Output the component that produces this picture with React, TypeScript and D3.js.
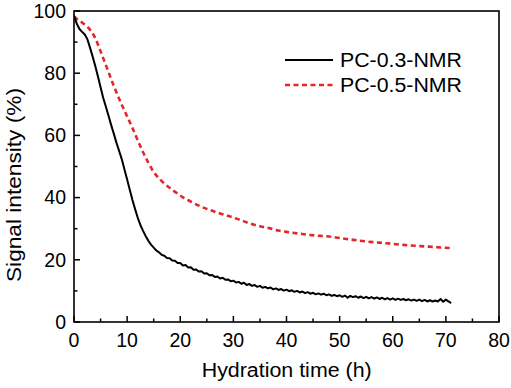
import React from "react";
import * as d3 from "d3";

const xTicks = [0, 10, 20, 30, 40, 50, 60, 70, 80];
const yTicks = [0, 20, 40, 60, 80, 100];
const xMinor = [5, 15, 25, 35, 45, 55, 65, 75];
const yMinor = [10, 30, 50, 70, 90];

const seriesNames = ["PC-0.3-NMR", "PC-0.5-NMR"];

const blackHours = [
  0, 0.5, 1, 1.5, 2, 2.5, 3, 3.5, 4, 4.5, 5, 5.5, 6, 6.5, 7, 7.5, 8, 8.5, 9, 9.5, 10, 10.5, 11, 11.5, 12, 12.5, 13, 13.5, 14, 14.5, 15, 15.5,
  16, 16.5, 17, 17.5, 18, 18.5, 19, 19.5, 20, 20.5, 21, 21.5, 22, 22.5, 23, 23.5, 24, 24.5, 25, 25.5, 26, 26.5, 27, 27.5, 28, 28.5, 29, 29.5,
  30, 30.5, 31, 31.5, 32, 32.5, 33, 33.5, 34, 34.5, 35, 35.5, 36, 36.5, 37, 37.5, 38, 38.5, 39, 39.5, 40, 40.5, 41, 41.5, 42, 42.5, 43, 43.5,
  44, 44.5, 45, 45.5, 46, 46.5, 47, 47.5, 48, 48.5, 49, 49.5, 50, 50.5, 51, 51.5, 52, 52.5, 53, 53.5, 54, 54.5, 55, 55.5, 56, 56.5, 57, 57.5,
  58, 58.5, 59, 59.5, 60, 60.5, 61, 61.5, 62, 62.5, 63, 63.5, 64, 64.5, 65, 65.5, 66, 66.5, 67, 67.5, 68, 68.5, 69, 69.5, 70, 70.5, 71,
];
const blackValues = [
  98.5, 96, 94.3, 93.3, 92.5, 91, 88.3, 85.4, 82.3, 79, 75.5, 72, 69.2, 66.3, 63.3, 60.5, 57.6, 55, 52.3, 49, 45.8, 42.5, 39.2, 36.3, 33.5, 31.2, 29.3, 27.6, 26.1, 24.9, 23.9, 23.0,
  22.4, 21.6, 21.3, 20.6, 20.5, 19.8, 19.7, 19.0, 19.0, 18.2, 18.3, 17.5, 17.6, 16.8, 16.9, 16.2, 16.3, 15.6, 15.7, 15.0, 15.1, 14.5, 14.6, 14.0, 14.2, 13.6, 13.7, 13.1,
  13.3, 12.7, 12.9, 12.3, 12.6, 11.9, 12.2, 11.6, 11.9, 11.3, 11.6, 11.0, 11.3, 10.8, 11.1, 10.5, 10.8, 10.3, 10.6, 10.1, 10.4, 9.9, 10.2, 9.7, 10.0, 9.5, 9.8, 9.3,
  9.6, 9.1, 9.4, 8.9, 9.2, 8.8, 9.1, 8.6, 8.9, 8.4, 8.7, 8.3, 8.6, 8.1, 8.5, 7.8, 8.4, 8.0, 8.3, 7.8, 8.2, 7.7, 8.1, 7.6, 8.0, 7.5, 7.9, 7.4,
  7.8, 7.3, 7.7, 7.2, 7.6, 7.1, 7.5, 7.1, 7.4, 7.0, 7.3, 6.9, 7.2, 6.8, 7.2, 6.7, 7.1, 6.6, 7.0, 6.6, 6.9, 6.6, 7.4, 6.5, 7.2, 6.6, 6.1,
];

const redHours = [
  0, 0.5, 1, 1.75, 2.5, 3, 4, 4.9, 6.2, 7.4, 8.7, 9.9, 11, 12, 13, 14, 14.9, 16, 16.8, 18.1, 19.3, 20.5, 21.8, 23.5, 25.6, 27.5, 29.4, 31, 33.1,
  35, 36.9, 38.5, 40.7, 42.5, 44.4, 46.3, 48, 50, 52.6, 55, 58.9, 62, 65.2, 68, 71.4,
];
const redValues = [
  98.2, 97.5, 96.9, 96, 95, 94, 91.3, 87.5, 81.7, 76.3, 71, 66.5, 62.4, 58.4, 54.6, 51.2, 48.5, 46.2, 44.8, 43, 41.5, 40.1, 38.9, 37.4, 36.0, 34.9, 33.9, 33.0, 31.7,
  30.8, 30.1, 29.4, 28.8, 28.4, 28.0, 27.7, 27.5, 27.0, 26.4, 25.9, 25.3, 24.8, 24.4, 24.1, 23.7,
];

const W = 511;
const H = 388;
const left = 74;
const right = 499;
const top = 11;
const bottom = 322;
const FONT = "Arial, 'Liberation Sans', sans-serif";
const RED = "#e4262a";

export default function App() {
  const x = d3.scaleLinear().domain([0, 80]).range([left, right]);
  const y = d3.scaleLinear().domain([0, 100]).range([bottom, top]);

  const blackData: [number, number][] = blackHours.map((h, i) => [h, blackValues[i]]);
  const redData: [number, number][] = redHours.map((h, i) => [h, redValues[i]]);

  const lineLinear = d3
    .line<[number, number]>()
    .x((d) => x(d[0]))
    .y((d) => y(d[1]));
  const lineSmooth = d3
    .line<[number, number]>()
    .x((d) => x(d[0]))
    .y((d) => y(d[1]))
    .curve(d3.curveMonotoneX);

  return (
    <svg
      width={W}
      height={H}
      style={{ position: "absolute", left: 0, top: 0, background: "#fff" }}
      fontFamily={FONT}
    >
      <rect x={0} y={0} width={W} height={H} fill="#fff" />
      <defs>
        <clipPath id="plotclip">
          <rect x={left} y={top} width={right - left} height={bottom - top} />
        </clipPath>
      </defs>

      {/* curves */}
      <g clipPath="url(#plotclip)">
        <path d={lineSmooth(redData) || ""} fill="none" stroke={RED} strokeWidth={2.6} strokeDasharray="5,3.5" />
        <path d={lineLinear(blackData) || ""} fill="none" stroke="#000" strokeWidth={2} strokeLinejoin="round" />
      </g>

      {/* frame */}
      <rect x={left} y={top} width={right - left} height={bottom - top} fill="none" stroke="#000" strokeWidth={1.6} />

      {/* x ticks */}
      {xTicks.map((t) => (
        <g key={"xt" + t}>
          <line x1={x(t)} x2={x(t)} y1={bottom} y2={bottom - 6} stroke="#000" strokeWidth={1.5} />
          <text x={x(t)} y={346.5} fontSize={19.5} textAnchor="middle" fill="#000">
            {t}
          </text>
        </g>
      ))}
      {xMinor.map((t) => (
        <line key={"xm" + t} x1={x(t)} x2={x(t)} y1={bottom} y2={bottom - 3.5} stroke="#000" strokeWidth={1.5} />
      ))}

      {/* y ticks */}
      {yTicks.map((t) => (
        <g key={"yt" + t}>
          <line x1={left} x2={left + 6} y1={y(t)} y2={y(t)} stroke="#000" strokeWidth={1.5} />
          <text x={66} y={y(t)} dy="0.35em" fontSize={19.5} textAnchor="end" fill="#000">
            {t}
          </text>
        </g>
      ))}
      {yMinor.map((t) => (
        <line key={"ym" + t} x1={left} x2={left + 3.5} y1={y(t)} y2={y(t)} stroke="#000" strokeWidth={1.5} />
      ))}

      {/* axis titles */}
      <text x={286.7} y={377.3} fontSize={19.5} textAnchor="middle" textLength={170} lengthAdjust="spacingAndGlyphs" fill="#000">
        Hydration time (h)
      </text>
      <text
        transform={`translate(20.5,185) rotate(-90)`}
        fontSize={19.5}
        textAnchor="middle"
        textLength={194}
        lengthAdjust="spacingAndGlyphs"
        fill="#000"
      >
        Signal intensity (%)
      </text>

      {/* legend */}
      <line x1={285} x2={333} y1={60} y2={60} stroke="#000" strokeWidth={2} />
      <text x={340} y={66.7} fontSize={19.5} textLength={122} lengthAdjust="spacingAndGlyphs" fill="#000">
        {seriesNames[0]}
      </text>
      <line x1={285} x2={333} y1={85} y2={85} stroke={RED} strokeWidth={2.6} strokeDasharray="5,3.5" />
      <text x={340} y={91.7} fontSize={19.5} textLength={122} lengthAdjust="spacingAndGlyphs" fill="#000">
        {seriesNames[1]}
      </text>
    </svg>
  );
}
